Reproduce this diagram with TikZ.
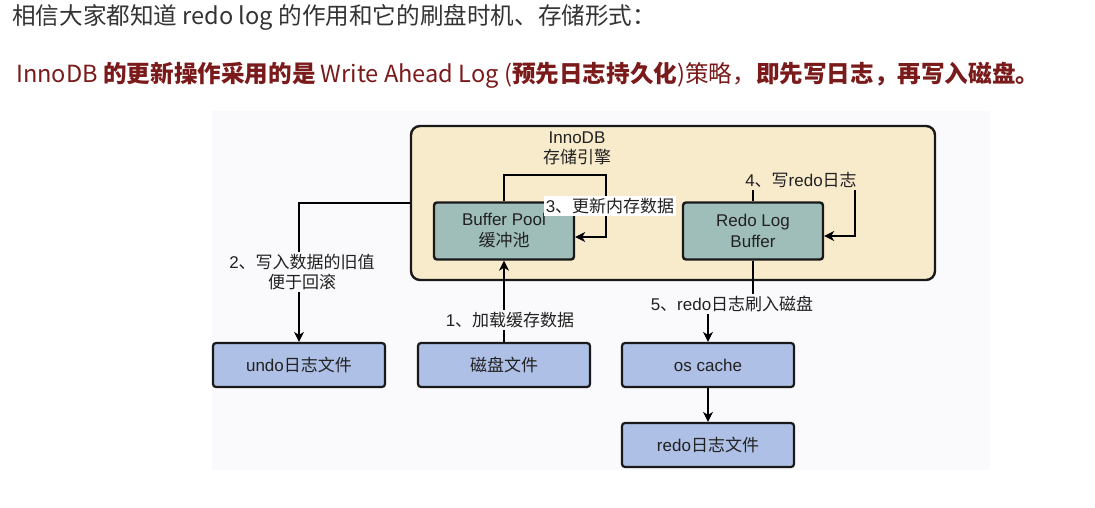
\documentclass[tikz,border=0pt]{standalone}
\usepackage{fontspec}
\setmainfont{Liberation Sans}
\newfontfamily\cjk{Noto Sans CJK SC}
\usetikzlibrary{arrows.meta,positioning}
\newcommand{\zh}[1]{{\cjk #1}}
\definecolor{panelgray}{HTML}{FAFAFC}
\definecolor{enginecream}{HTML}{F8EBCC}
\definecolor{poolteal}{HTML}{9FBEB9}
\definecolor{fileblue}{HTML}{AFC0E6}
\definecolor{leadred}{HTML}{7A1A1A}
\definecolor{introgray}{HTML}{333333}
\begin{document}
\begin{tikzpicture}[
    x=1pt, y=-1pt,
    every node/.style={font=\fontsize{17}{20}\selectfont, text=black!87, inner sep=0pt},
    membox/.style={draw=black!90, line width=2.4pt, rounded corners=3pt, fill=poolteal, minimum width=140pt, minimum height=57pt, align=center},
    filebox/.style={draw=black!90, line width=2.2pt, rounded corners=3pt, fill=fileblue, minimum width=172pt, minimum height=44pt},
    steplabel/.style={inner sep=2pt, align=center},
    flow/.style={line width=1.2pt, -{Stealth[length=10pt,width=10pt,inset=3pt]}},
    headline/.style={anchor=west, font=\cjk\fontsize{23.6}{28}\selectfont},
  ]
    \useasboundingbox (0,0) rectangle (1095,508);
    \fill[panelgray] (212,111) rectangle (990,470);
    \node[headline, text=introgray] (intro) at (12,17) {相信大家都知道 redo log 的作用和它的刷盘时机、存储形式：};
    \node[headline, text=leadred] (lead) at (16,75) {InnoDB \textbf{的更新操作采用的是} Write Ahead Log (\textbf{预先日志持久化})策略，\textbf{即先写日志，再写入磁盘。}};
    \node[draw=black!90, line width=2.4pt, rounded corners=9pt, fill=enginecream, minimum width=524pt, minimum height=154pt] (engine) at (673,203) {};
    \node[align=center] (enginetitle) at (577,148) {InnoDB\\\zh{存储引擎}};
    \node[membox] (pool) at (504,231) {Buffer Pool\\[1pt]\zh{缓冲池}};
    \node[membox] (redo) at (753,231) {Redo Log\\[1pt]Buffer};
    \node[filebox] (undo) at (299,365) {undo\zh{日志文件}};
    \node[filebox] (disk) at (504,365) {\zh{磁盘文件}};
    \node[filebox] (oscache) at (708,365) {os cache};
    \node[filebox] (redofile) at (708,445) {redo\zh{日志文件}};
    \coordinate (poolloop) at (606,175);
    \coordinate (redoloop) at (855,180);
    \draw[flow] (disk.north) -- (pool.south);
    \draw[flow] (pool.north) |- (poolloop) |- ([yshift=-6pt]pool.east);
    \draw[flow] (redo.north) |- (redoloop) |- ([yshift=-5pt]redo.east);
    \draw[flow] (engine.west) -| (undo.north);
    \draw[flow] (redo.south) -- ++(0,40) -| (oscache.north);
    \draw[flow] (oscache) -- (redofile);
    \node[steplabel, fill=panelgray] (loadlbl) at (510,320) {1\zh{、加载缓存数据}};
    \node[steplabel, fill=panelgray] (undolbl) at (302,272) {2\zh{、写入数据的旧值}\\\zh{便于回滚}};
    \node[steplabel, fill=white] (memlbl) at (610,206) {3\zh{、更新内存数据}};
    \node[steplabel, fill=enginecream] (loglbl) at (801,180) {4\zh{、写}redo\zh{日志}};
    \node[steplabel, fill=panelgray] (flushlbl) at (732,304) {5\zh{、}redo\zh{日志刷入磁盘}};
\end{tikzpicture}
\end{document}
